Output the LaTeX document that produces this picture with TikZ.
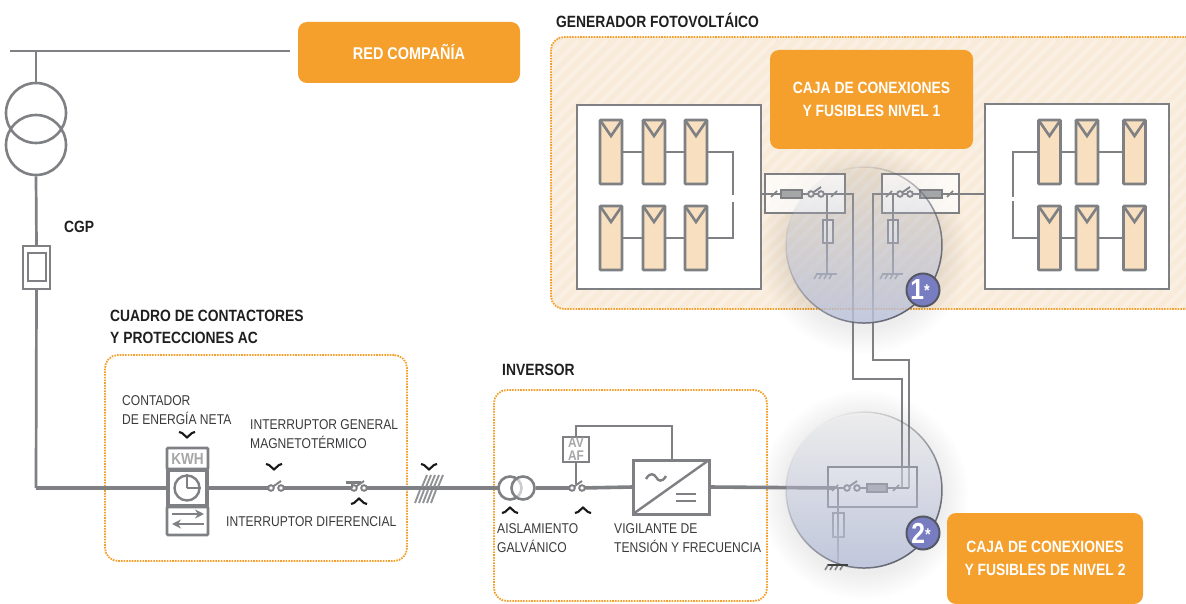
\documentclass[tikz,border=0pt]{standalone}
\usepackage{fontspec}
\setmainfont[FakeStretch=0.85]{Liberation Sans}
\usetikzlibrary{fadings,arrows.meta,calc}
\definecolor{orng}{HTML}{F5A02C}
\definecolor{wirec}{HTML}{7F8083}
\definecolor{cream}{HTML}{F8EBD9}
\definecolor{cellc}{HTML}{F7DFBF}
\definecolor{bubc}{HTML}{BCC3DA}
\definecolor{labc}{HTML}{3A3A3C}
\tikzset{
  x=1pt,y=-1pt,
  wire/.style={draw=wirec,line width=2.7pt},
  mainwire/.style={draw=wirec,line width=3.6pt},
  thinbox/.style={draw=wirec,line width=2.4pt,inner sep=0pt,outer sep=0pt},
  wbox/.style={thinbox,fill=white,line width=2.8pt},
  cell/.style={thinbox,fill=cellc,line width=2.8pt,rounded corners=0.8pt,minimum width=22pt,minimum height=64pt},
  dotbox/.style={draw=orng,line width=1.8pt,dash pattern=on 1.6pt off 1.1pt,rounded corners=13pt,inner sep=0pt},
  orbox/.style={fill=orng,rounded corners=9pt,text=white,font=\fontsize{16.3}{22.5}\selectfont\bfseries,align=center,inner sep=0pt},
  boldlab/.style={text=black!88,font=\fontsize{16.3}{22}\selectfont\bfseries,align=left,anchor=west,inner sep=0pt},
  lab/.style={text=labc,font=\fontsize{14.2}{19}\selectfont,align=left,anchor=west,inner sep=0pt},
  swc/.style={draw=wirec,line width=1.9pt,fill=white!85!cream},
  badge/.style={circle,draw=black!55!bubc,line width=2pt,fill=bubc!75!blue!85!black,minimum size=33pt,inner sep=0pt,text=white,font=\fontsize{29}{29}\selectfont\bfseries},
  chv/.style={draw=black!90,line width=2.1pt,line join=miter},
  gbar/.style={draw=wirec,line width=1.6pt}
}
\newcommand{\rbox}[6]{\pgfmathsetmacro{\mw}{#5-#3}\pgfmathsetmacro{\mh}{#6-#4}\node[#2,minimum width=\mw pt,minimum height=\mh pt] (#1) at ({(#3+#5)/2},{(#4+#6)/2}) {};}
\newcommand{\solar}[3]{\node[cell] (#1) at (#2,#3) {};\draw[wirec,line width=2.6pt] (#1.north west) -- ++(11,16) -- (#1.north east);}
\newcommand{\tick}[2]{\draw[wirec,line width=1.7pt] (#1-3,#2+3) -- (#1+3,#2-3);}
\newcommand{\contact}[2]{%
  \draw[wirec,line width=1.9pt] (#1,#2) -- (#1+10,#2-7);
  \draw[swc] (#1,#2) circle (2.8);\draw[swc] (#1+10,#2) circle (2.8);}
\newcommand{\groundsym}[2]{%
  \draw[wirec,line width=2.2pt] (#1-10,#2) -- (#1+11,#2);
  \foreach \k in {-9,-4,1,6}{\draw[wirec,line width=1.6pt] (#1+\k,#2) -- (#1+\k-3,#2+5);}}
\newcommand{\chevd}[2]{\draw[chv] (#1-8,#2-3) -- (#1-5,#2-2) -- (#1,#2+2.5) -- (#1+5,#2-2) -- (#1+8,#2-3);}
\newcommand{\chevu}[2]{\draw[chv] (#1-8,#2+3) -- (#1-5,#2+2) -- (#1,#2-2.5) -- (#1+5,#2+2) -- (#1+8,#2+3);}
\begin{document}
\begin{tikzpicture}
\useasboundingbox (0,0) rectangle (1186,604);
\fill[white] (0,0) rectangle (1186,604);

% --- generator panel
\begin{scope}
 \clip[rounded corners=13pt] (551,37) rectangle (1205,309);
 \fill[cream] (551,37) rectangle (1205,309);
 \foreach \s in {0,14,...,980}{\draw[white,opacity=.28,line width=4pt] (551+\s-280,320) -- (551+\s,40);}
\end{scope}
\rbox{gen}{dotbox}{551}{37}{1205}{309}

% soft shadows
\foreach \r in {80,83,...,104}{\fill[black,opacity=.006] (864,250) circle (\r);}
\foreach \r in {80,83,...,104}{\fill[black,opacity=.008] (864,495) circle (\r);}

% --- white boxes
\rbox{whL}{wbox}{577}{105}{761}{289}
\rbox{whR}{wbox}{985}{104}{1169}{289}

% solar cells left
\solar{a1}{611}{152}\solar{a2}{654}{152}\solar{a3}{696}{152}
\solar{a4}{611}{238}\solar{a5}{654}{238}\solar{a6}{696}{238}
\draw[wire] (a1) -- (a2) (a2) -- (a3);
\draw[wire] (a4) -- (a5) (a5) -- (a6);
\coordinate (lb1) at (733,152);\coordinate (lb2) at (733,195);
\coordinate (lb3) at (733,202);\coordinate (lb4) at (733,238);
\draw[wire] (a3.east) -- (lb1) -- (lb2);
\draw[wire] (lb3) -- (lb4) -- (a6.east);

% solar cells right
\solar{b1}{1049.5}{152}\solar{b2}{1087}{152}\solar{b3}{1134.5}{152}
\solar{b4}{1049.5}{238}\solar{b5}{1087}{238}\solar{b6}{1134.5}{238}
\draw[wire] (b1) -- (b2) (b2) -- (b3);
\draw[wire] (b4) -- (b5) (b5) -- (b6);
\coordinate (rb1) at (1013,152);\coordinate (rb2) at (1013,197);
\coordinate (rb3) at (1013,201);\coordinate (rb4) at (1013,238);
\draw[wire] (b1.west) -- (rb1) -- (rb2);
\draw[wire] (rb3) -- (rb4) -- (b4.west);

% --- level 1 boxes
\rbox{n1L}{thinbox,fill=white,fill opacity=.75}{765}{174}{845}{213}
\rbox{n1R}{thinbox,fill=white,fill opacity=.75}{882}{174}{959}{213}
\coordinate (c1) at (853,194);\coordinate (c2) at (853,379);\coordinate (c3) at (902,379);\coordinate (c4) at (902,488);
\coordinate (d1) at (873,194);\coordinate (d2) at (873,360);\coordinate (d3) at (909,360);\coordinate (d4) at (909,488);
\coordinate (le) at (whL.east |- c1);\coordinate (re) at (whR.west |- d1);
\draw[draw=wirec,line width=2.2pt] (le) -- (c1) -- (c2) -- (c3) -- (c4);
\draw[draw=wirec,line width=2.2pt] (re) -- (d1) -- (d2) -- (d3) -- (d4);
\tick{774}{194}\tick{834}{194}
\draw[gbar,fill=wirec!70!white] (781,190) rectangle (802,198);
\contact{811}{194}
\tick{889}{194}\tick{950}{194}
\draw[gbar,fill=wirec!70!white] (920,190) rectangle (942,198);
\contact{900}{194}
\rbox{sL}{thinbox,fill=white,fill opacity=.5,line width=1.8pt}{823}{220}{833}{243}
\rbox{sR}{thinbox,fill=white,fill opacity=.5,line width=1.8pt}{888}{220}{898}{243}
\coordinate (gL) at (827,273);\coordinate (gR) at (893,273);
\coordinate (tL) at (827,194);\coordinate (tR) at (893,194);
\draw[draw=wirec,line width=1.9pt] (tL) -- (gL);
\draw[draw=wirec,line width=1.9pt] (tR) -- (gR);
\groundsym{826}{274}\groundsym{892}{274}

% --- top-left supply
\coordinate (bus1) at (10,51);\coordinate (bus2) at (290,51);\coordinate (tap) at (36,51);
\draw[wire] (bus1) -- (bus2);
\node[circle,draw=wirec,line width=2.6pt,minimum size=60pt,inner sep=0pt] (t1) at (36,113) {};
\node[circle,draw=wirec,line width=2.6pt,minimum size=60pt,inner sep=0pt] (t2) at (36,145) {};
\draw[wire] (tap) -- (t1.north);
\rbox{cgp}{thinbox,line width=2.8pt}{23}{246}{50}{289}
\rbox{cgpi}{thinbox,line width=2.6pt}{28}{253}{46}{281}
\draw[wire] (t2.south) -- (cgp.north);
\coordinate (corner) at (36,488);
\draw[wire] (cgp.south) -- (corner);

% --- dotted frames
\rbox{ac}{dotbox}{105}{355}{407}{561}
\rbox{inv}{dotbox}{494}{390}{767}{601}

% --- main line
\rbox{meter}{thinbox,line width=3.4pt,fill=white}{168}{470}{207}{506}
\node[circle,draw=wirec,line width=2.4pt,minimum size=25pt,inner sep=0pt] (clock) at (187,488) {};
\draw[mainwire] (corner) -- (meter.west);
\draw[mainwire] (meter.east) -- (271,488) (281,488) -- (353,488) (365,488) -- (500,488);
\rbox{kwh}{thinbox,line width=2.6pt,fill=white,rounded corners=1pt}{167}{448}{208}{469}
\node[text=black!35,font=\fontsize{16}{16}\selectfont\bfseries,inner sep=0pt] at (kwh) {KWH};
\draw[draw=wirec,line width=2pt] (clock.center) -- (clock.north) (clock.center) -- (clock.east);
\rbox{arr}{thinbox,line width=2.6pt,fill=white,rounded corners=1pt}{167}{507}{208}{535}
\draw[draw=wirec,line width=1.9pt,-{Stealth[length=9pt,width=9pt]}] (172,514) -- (204,514);
\draw[draw=wirec,line width=1.9pt,-{Stealth[length=9pt,width=9pt]}] (204,524) -- (172,524);

\contact{271}{488}
\contact{354}{488}
\draw[wirec,line width=3pt] (346,482) -- (361,482);
\draw[wirec,line width=1.8pt] (352,488) -- (352,482);
% multi-cable marks
\foreach \k in {0,4,...,16}{\draw[wirec!85,line width=1.9pt] (422+\k,487) -- (427+\k,475);}
\foreach \k in {0,4,...,16}{\draw[wirec!85,line width=1.9pt] (415+\k,503) -- (420+\k,490);}

% inverter part
\node[circle,draw=wirec,line width=2.6pt,minimum size=23pt,inner sep=0pt] (g1) at (510,488) {};
\node[circle,draw=wirec,line width=2.6pt,minimum size=23pt,inner sep=0pt,fill=white,fill opacity=.6] (g2) at (523,488) {};
\rbox{invb}{thinbox,line width=3pt,fill=white}{633}{460}{709}{514}
\rbox{avaf}{thinbox,line width=2.6pt,fill=white}{563}{437}{589}{462}
\node[text=black!35,font=\fontsize{14}{13}\selectfont\bfseries,align=center,inner sep=0pt] at (avaf) {AV\\AF};
\draw[mainwire] (g2.east) -- (572,488) (582,488) -- (invb.west);
\draw[draw=wirec,line width=2.4pt] (invb.south west) -- (invb.north east);
\draw[draw=wirec,line width=2.4pt] (646,479) .. controls (650,472) and (654,474) .. (656,477) .. controls (658,481) and (662,483) .. (666,476);
\draw[draw=wirec,line width=2.6pt] (676,494) -- (696,494) (676,501) -- (696,501);
\coordinate (fb) at (672,426);\coordinate (fa) at (576,426);
\draw[wire] (672,460) -- (fb) -- (fa) -- (avaf.north);
\draw[draw=wirec,line width=2pt] (avaf.south) -- (576,484);
\contact{572}{488}

% --- level 2 box
\rbox{n2}{thinbox,fill=white,fill opacity=.35}{828}{467}{917}{507}
\draw[mainwire] (invb.east) -- (835,488);
\draw[draw=wirec,line width=2.2pt] (835,488) -- (847,488) (858,488) -- (867,488) (887,488) -- (909,488);
\tick{835}{488}\tick{896}{488}
\draw[gbar,fill=wirec!70!white] (867,484) rectangle (887,492);
\contact{847}{488}
\rbox{s2}{thinbox,fill=white,fill opacity=.5,line width=1.8pt}{833}{513}{844}{537}
\coordinate (g2t) at (838,488);\coordinate (g2b) at (838,564);
\draw[draw=wirec,line width=1.9pt] (g2t) -- (g2b);

% --- bubbles
\fill[bubc,opacity=.85,path fading=north] (864,245) circle (78);
\draw[black!50!bubc,line width=1.5pt,path fading=north,fading angle=45] (864,245) circle (78);
\fill[bubc,opacity=.9,path fading=north] (864,490) circle (78);
\draw[black!50!bubc,line width=1.5pt,path fading=north,fading angle=45] (864,490) circle (78);
\groundsym{837}{565}
\draw[black!75,line width=1.5pt] (828,565) -- (848,565);
\node[badge] (b1) at (923,290) {\hspace*{-6pt}1\raisebox{3pt}[0pt][0pt]{\fontsize{17}{17}\selectfont *}};
\node[badge] (b2) at (923,533) {\hspace*{-4pt}2\raisebox{3pt}[0pt][0pt]{\fontsize{17}{17}\selectfont *}};

% --- orange labels
\node[orbox,minimum width=222pt,minimum height=61pt,font=\fontsize{17}{22}\selectfont\bfseries] (red) at (409,52.5) {RED COMPAÑÍA};
\node[orbox,minimum width=203pt,minimum height=99pt] (caja1) at (871.5,99.5) {CAJA DE CONEXIONES\\Y FUSIBLES NIVEL 1};
\node[orbox,minimum width=196pt,minimum height=91pt] (caja2) at (1045,558.5) {CAJA DE CONEXIONES\\Y FUSIBLES DE NIVEL 2};

% --- text
\node[boldlab] (tgen) at (556,20) {GENERADOR FOTOVOLTÁICO};
\node[boldlab] (tcgp) at (64,227) {CGP};
\node[boldlab] (tcua) at (110,327) {CUADRO DE CONTACTORES\\Y PROTECCIONES AC};
\node[boldlab] (tinv) at (502,370) {INVERSOR};
\node[lab] (tcon) at (122,410.5) {CONTADOR\\DE ENERGÍA NETA};
\node[lab] (tint) at (250,434) {INTERRUPTOR GENERAL\\MAGNETOTÉRMICO};
\node[lab] (tdif) at (226,522) {INTERRUPTOR DIFERENCIAL};
\node[lab] (tais) at (497,538.5) {AISLAMIENTO\\GALVÁNICO};
\node[lab] (tvig) at (614,538.5) {VIGILANTE DE\\TENSIÓN Y FRECUENCIA};

% --- chevrons
\chevd{187}{435}\chevd{274}{467}\chevd{429}{467}
\chevu{359}{501}\chevu{510}{510}\chevu{583}{510}
\end{tikzpicture}
\end{document}
